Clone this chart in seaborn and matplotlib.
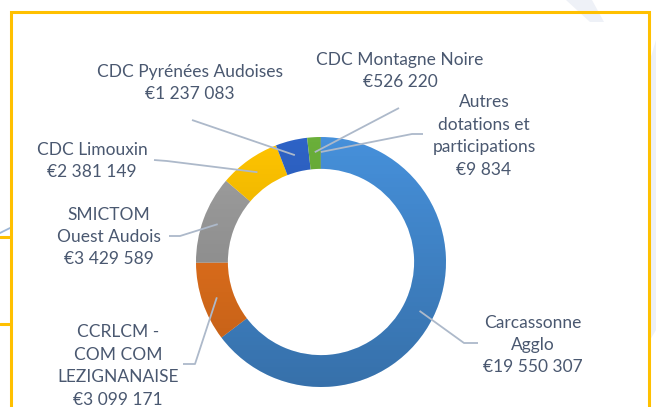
import numpy as np
import matplotlib.pyplot as plt
import seaborn as sns
from matplotlib.patches import Rectangle, Polygon

sns.set_theme(style="white")
plt.rcParams["font.family"] = ["Lato", "DejaVu Sans"]

# data
names = ["Carcassonne\nAgglo", "CCRLCM -\nCOM COM\nLEZIGNANAISE", "SMICTOM\nOuest Audois",
         "CDC Limouxin", "CDC Pyrénées Audoises", "CDC Montagne Noire",
         "Autres\ndotations et\nparticipations"]
amounts = [19550307, 3099171, 3429589, 2381149, 1237083, 526220, 9834]
colors = ["#4690DA", "#F2781E", "#A0A0A0", "#FFC400", "#2E63C6", "#6AAF3A", "#264478"]

W, H = 656, 407
fig = plt.figure(figsize=(W / 100, H / 100), dpi=100)
ax = fig.add_axes([0, 0, 1, 1])
ax.set_xlim(0, W)
ax.set_ylim(0, H)
ax.axis("off")

# frame around the chart
fig.patches.append(Rectangle((10.5, -5), 638, H - 11.5 + 5, transform=None,
                             fill=False, ec="#FFC000", lw=2.2, zorder=0))
ax.plot([0, 10], [H - 237, H - 237], color="#FFC000", lw=2.2)
ax.plot([0, 10], [H - 324, H - 324], color="#FFC000", lw=2.2)
ax.plot([0, 10], [H - 233, H - 228], color="#9DB6D6", lw=1.3)
ax.add_patch(Polygon([(566, H), (592, H), (604, H - 22), (590, H - 22)],
                     closed=True, fc="#EEF1F7", ec="none", zorder=0))
ax.add_patch(Polygon([(650, H - 60), (656, H - 40), (656, H - 330), (650, H - 340)],
                     closed=True, fc="#EEF1F7", ec="none", zorder=0))

cx, cy, R = 321, H - 262, 125
wedges, _ = ax.pie(amounts, colors=colors, startangle=90, counterclock=False,
                   center=(cx, cy), radius=R, frame=True,
                   wedgeprops=dict(width=R * 0.255, linewidth=0))

# soft vertical shading like the original gradient
grad = np.zeros((100, 2, 4))
grad[..., 3] = np.linspace(0.0, 0.22, 100)[:, None]
for w in wedges:
    im = ax.imshow(grad, extent=[cx - R, cx + R, cy - R, cy + R], origin="upper",
                   zorder=w.get_zorder() + 0.1, aspect="auto")
    im.set_clip_path(w)
ax.set_xlim(0, W)
ax.set_ylim(0, H)

# labels, in pixel positions (x center, y center from top) and leader starts
label_xy = [(533, 345), (118, 366), (109, 237), (92, 161), (190, 83), (400, 71), (484, 136)]
leader_start = [[(478, 343), (464, 343)], [(183, 364), (195, 364)], [(169, 236), (180, 236)],
                [(154, 160), (167, 161)], [(192, 120)], [(399, 108)], [(423, 134), (412, 134)]]

text_color = "#4A5870"
line_color = "#ADB9CA"
for w, name, val, (lx, ly), pts in zip(wedges, names, amounts, label_xy, leader_start):
    mid = np.deg2rad((w.theta1 + w.theta2) / 2)
    ex, ey = cx + 0.88 * R * np.cos(mid), cy + 0.88 * R * np.sin(mid)
    xs = [p[0] for p in pts] + [ex]
    ys = [H - p[1] for p in pts] + [ey]
    ax.plot(xs, ys, color=line_color, lw=1.3, zorder=5, solid_capstyle="butt")
    amount = "€" + f"{val:,}".replace(",", " ")
    ax.text(lx, H - ly, name + "\n" + amount, ha="center", va="center",
            fontsize=12.5, color=text_color, linespacing=1.5, zorder=6)

fig.savefig("out.png", dpi=100)
